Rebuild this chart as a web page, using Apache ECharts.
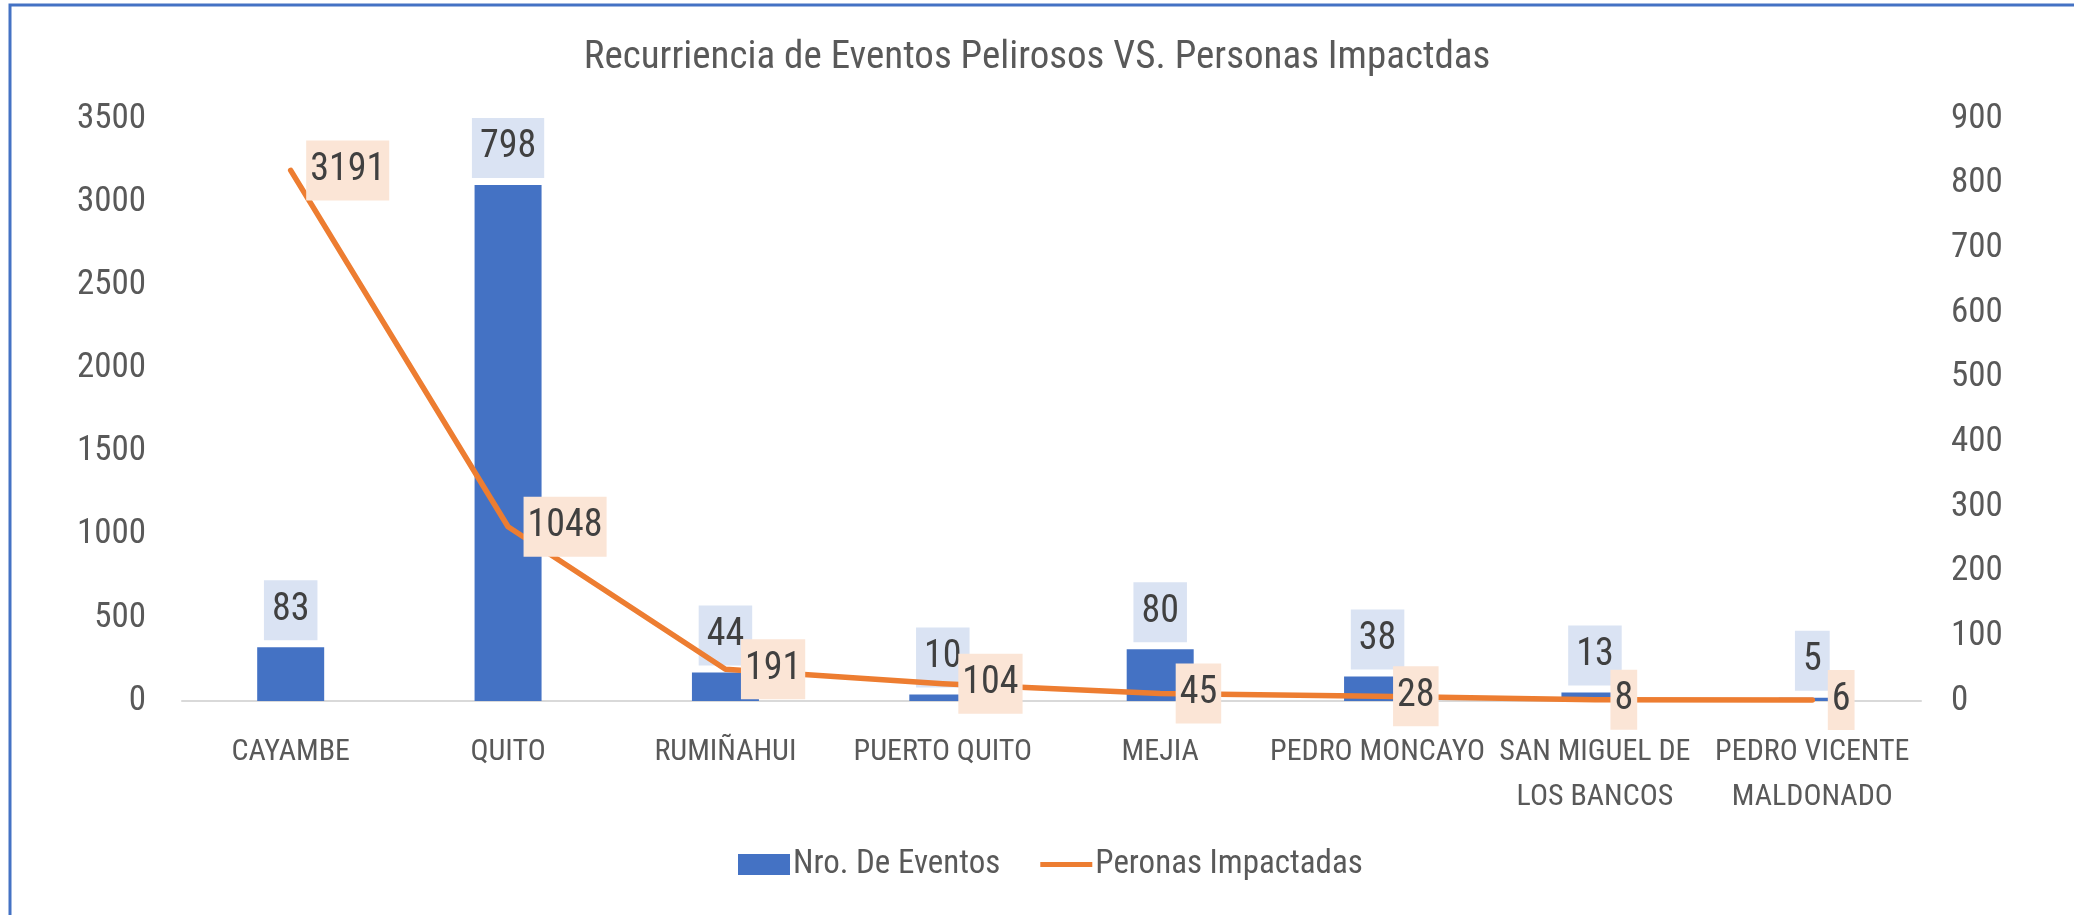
<!DOCTYPE html>
<html>
<head>
<meta charset="utf-8">
<title>Recurriencia de Eventos</title>
<script src="https://cdn.jsdelivr.net/npm/echarts@6.0.0/dist/echarts.min.js"></script>
<style>
  html, body { margin: 0; padding: 0; background: #fff; }
  #chart { width: 2074px; height: 915px; }
</style>
</head>
<body>
<div id="chart"></div>
<script>
  // datos
  const cantones = ['CAYAMBE', 'QUITO', 'RUMIÑAHUI', 'PUERTO QUITO', 'MEJIA', 'PEDRO MONCAYO', 'SAN MIGUEL DE LOS BANCOS', 'PEDRO VICENTE MALDONADO']
  const nroEventos = [83, 798, 44, 10, 80, 38, 13, 5]
  const personasImpactadas = [3191, 1048, 191, 104, 45, 28, 8, 6]
  const ejeIzq = { min: 0, max: 3500, interval: 500 }
  const ejeDer = { min: 0, max: 900, interval: 100 }

  const fuente = '"Roboto Condensed", "Liberation Sans Narrow", sans-serif'
  const gris = '#595959'

  // nombres largos en dos lineas, como en Excel
  function partirNombre(nombre) {
    const palabras = nombre.split(' ')
    if (palabras.length <= 2) return nombre
    const corte = Math.ceil(palabras.length / 2)
    return palabras.slice(0, corte).join(' ') + '\n' + palabras.slice(corte).join(' ')
  }

  const myChart = echarts.init(document.getElementById('chart'))
  myChart.setOption({
    textStyle: { fontFamily: fuente },
    title: {
      text: 'Recurriencia de Eventos Pelirosos VS. Personas Impactdas',
      left: 'center',
      top: 34,
      textStyle: { fontFamily: fuente, fontSize: 39, fontWeight: 'normal', color: gris }
    },
    legend: {
      left: 733,
      top: 843,
      itemGap: 40,
      itemWidth: 52,
      itemHeight: 21,
      textStyle: { fontFamily: fuente, fontSize: 33, color: gris, padding: [0, 0, 0, -2] },
      data: [
        { name: 'Nro. De Eventos', icon: 'rect' },
        { name: 'Peronas Impactadas', icon: 'path://M0,0 L100,0 L100,10 L0,10 Z' }
      ]
    },
    grid: {
      left: 182,
      right: 153,
      top: 119,
      bottom: 214
    },
    xAxis: {
      type: 'category',
      data: cantones,
      axisLine: { lineStyle: { color: '#D9D9D9', width: 2 } },
      axisTick: { show: false },
      axisLabel: {
        interval: 0,
        margin: 29,
        fontFamily: fuente,
        fontSize: 30,
        lineHeight: 45,
        color: gris,
        formatter: partirNombre
      }
    },
    yAxis: [
      {
        type: 'value',
        min: ejeIzq.min,
        max: ejeIzq.max,
        interval: ejeIzq.interval,
        axisLine: { show: false },
        axisTick: { show: false },
        splitLine: { show: false },
        axisLabel: { margin: 36, fontFamily: fuente, fontSize: 35, color: gris, formatter: v => String(v) }
      },
      {
        type: 'value',
        position: 'right',
        min: ejeDer.min,
        max: ejeDer.max,
        interval: ejeDer.interval,
        axisLine: { show: false },
        axisTick: { show: false },
        splitLine: { show: false },
        axisLabel: { margin: 30, fontFamily: fuente, fontSize: 35, color: gris, formatter: v => String(v) }
      }
    ],
    series: [
      {
        name: 'Nro. De Eventos',
        type: 'bar',
        yAxisIndex: 1,
        barWidth: 67,
        data: nroEventos,
        itemStyle: { color: '#4472C4' },
        label: {
          show: true,
          position: 'top',
          distance: 7,
          fontFamily: fuente,
          fontSize: 38,
          lineHeight: 38,
          color: '#404040',
          backgroundColor: '#DAE3F3',
          padding: [11, 8]
        }
      },
      {
        name: 'Peronas Impactadas',
        type: 'line',
        yAxisIndex: 0,
        data: personasImpactadas,
        showSymbol: true,
        symbol: 'circle',
        symbolSize: 1,
        smooth: false,
        lineStyle: { color: '#ED7D31', width: 5.5, cap: 'round', join: 'round' },
        itemStyle: { color: '#ED7D31' },
        label: {
          show: true,
          position: 'right',
          distance: 15,
          fontFamily: fuente,
          fontSize: 38,
          lineHeight: 38,
          color: '#404040',
          backgroundColor: '#FBE5D6',
          padding: [11, 4]
        }
      }
    ],
    graphic: [
      {
        type: 'rect',
        silent: true,
        shape: { x: 10, y: 5, width: 2200, height: 1200 },
        style: { fill: 'none', stroke: '#4472C4', lineWidth: 3 }
      }
    ]
  })
</script>
</body>
</html>
